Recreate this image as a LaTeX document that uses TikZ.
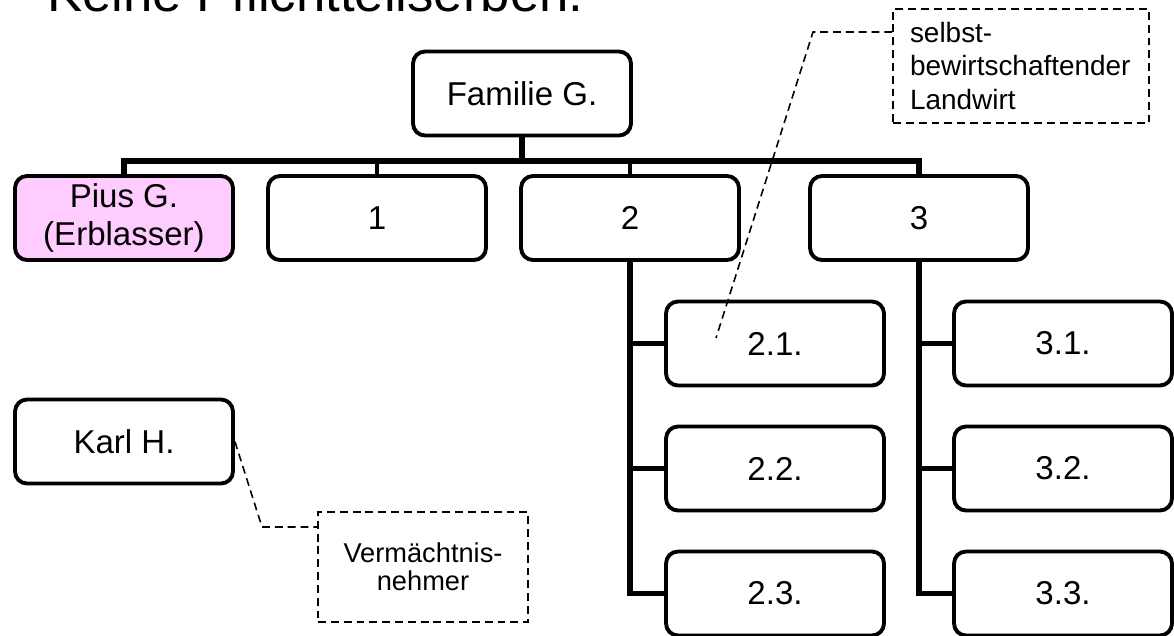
\documentclass[tikz,border=0pt]{standalone}
\usepackage{fontspec}
\setmainfont{Liberation Sans}
\newfontfamily\symfont{DejaVu Sans}
\usepackage{xcolor}
\usepackage{tikz}
\definecolor{cpink}{HTML}{FFCCFF}
\definecolor{cink}{HTML}{000000}
\tikzset{
  box/.style={rounded corners=0.24cm,draw=cink,fill=white,line width=2.2pt,align=center,
              minimum width=4.36cm,minimum height=1.68cm,inner sep=2pt},
  note/.style={draw=cink,line width=0.9pt,dash pattern=on 4.5pt off 2.8pt,inner sep=0pt},
  ttl/.style={font=\fontsize{30}{36}\selectfont,text=cink},
  lbl/.style={font=\fontsize{15.5}{16.2}\selectfont,text=cink},
  conn/.style={line width=3.2pt,cink},
  stub/.style={line width=2.6pt,cink},
  leader/.style={line width=0.9pt,cink,dash pattern=on 4.5pt off 2.8pt},
}

\begin{document}
\begin{tikzpicture}[x=0.02cm,y=-0.02cm,font=\fontsize{18.8}{21.5}\selectfont]
\useasboundingbox (0,0) rectangle (1174,636);
\clip (0,0) rectangle (1174,636);

% ================= TITLE (cut at top) =================
\node[ttl,anchor=base west,inner sep=0pt] (title) at (47,11) {Keine Pflichtteilserben.};
\node[anchor=base west,inner sep=0pt,font=\symfont\fontsize{26}{30}\selectfont] (bullet) at (-17,10) {✓};

% ================= TREE =================
\node[box] (fam) at (522,93.5) {Familie G.};
\coordinate (bus) at (522,161);

\node[box,fill=cpink] (pius) at (124,218) {Pius G.\\(Erblasser)};
\node[box] (k1) at (377,218) {1};
\node[box] (k2) at (630,218) {2};
\node[box] (k3) at (919,218) {3};

\draw[conn] (fam.south) -- (bus);
\draw[conn] (pius.north) |- (k3.north |- bus) -- (k3.north);
\foreach \n in {k1,k2}
   \draw[stub] (\n.north |- bus) -- (\n.north);

% children of 2 and 3
\foreach \i/\cy in {1/343.5,2/468.5,3/593.5}{
   \node[box] (k2\i) at (775,\cy) {2.\i.};
   \node[box] (k3\i) at (1063,\cy) {3.\i.};
   \draw[conn] (k2.south) |- (k2\i.west);
   \draw[conn] (k3.south) |- (k3\i.west);
}

% ================= LEGATEE =================
\node[box] (karl) at (124,441.5) {Karl H.};
\node[note,lbl,align=center,minimum width=4.2cm,minimum height=2.2cm] (verm) at (423,567)
   {Vermächtnis-\\nehmer};
\coordinate (kbend) at (262,527);
\draw[leader] (karl.east) -- (kbend) -- (verm.west |- kbend);

% ================= FARMER NOTE =================
\node[note,lbl,font=\fontsize{15.9}{19.2}\selectfont,align=left,text width=4.44cm,inner xsep=0.34cm,
      minimum height=2.28cm] (selbst) at (1021,66)
   {selbst-\\bewirtschaftender\\Landwirt};
\coordinate (sbend) at (813,32);
\coordinate (stip) at (716,338);
\draw[leader] (selbst.west |- sbend) -- (sbend) -- (stip);

\end{tikzpicture}
\end{document}
